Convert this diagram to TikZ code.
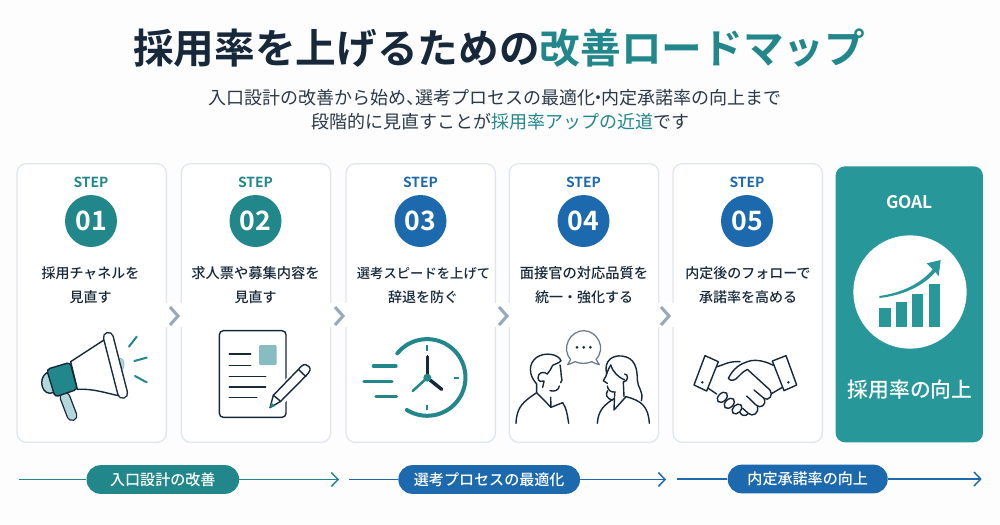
\documentclass[tikz,border=0pt]{standalone}
\usepackage{fontspec}
\setmainfont{Noto Sans CJK JP}[BoldFont={Noto Sans CJK JP Bold}]
\newfontfamily\medfont{Noto Sans CJK JP Medium}
\usetikzlibrary{arrows.meta}

\definecolor{inkdark}{HTML}{16283A}
\definecolor{bodygray}{HTML}{2B3949}
\definecolor{tealmain}{HTML}{22878A}
\definecolor{tealgoal}{HTML}{27979A}
\definecolor{teallight}{HTML}{B2D8DB}
\definecolor{tealsquare}{HTML}{87BCC0}
\definecolor{bluemain}{HTML}{1C69AD}
\definecolor{cardedge}{HTML}{E0E6ED}
\definecolor{chevgray}{HTML}{97A9BB}
\definecolor{bubblegray}{HTML}{6F7A8A}
\definecolor{pagebg}{HTML}{FDFDFE}

\tikzset{
  stepcard/.style={draw=cardedge, line width=.95pt, fill=white, rounded corners=7pt, minimum width=112pt, minimum height=209pt, inner sep=0pt},
  goalcard/.style={fill=tealgoal, rounded corners=7pt, minimum width=110.5pt, minimum height=207pt, inner sep=0pt},
  steplabel/.style={font=\bfseries\fontsize{10.4}{12}\selectfont, inner sep=0pt},
  stepnum/.style={circle, minimum size=39pt, inner sep=0pt, text=white, font=\bfseries\fontsize{20}{24}\selectfont},
  steptext/.style={font=\medfont\fontsize{10.5}{12}\selectfont, text=inkdark, inner sep=0pt},
  gapbox/.style={fill=white, minimum width=20pt, minimum height=18pt, inner sep=0pt},
  chevron/.style={draw=chevgray, line width=2.3pt, line join=miter},
  phasepill/.style={rounded corners=10.5pt, minimum height=21.5pt, inner sep=0pt, text=white, font=\medfont\fontsize{11.3}{13}\selectfont},
  phaseline/.style={line width=1.1pt, -{Straight Barb[length=5pt,width=10.5pt,line width=1.1pt]}},
  iconline/.style={draw=inkdark, line width=1.05pt, line cap=round, line join=round},
  iconteal/.style={draw=tealmain, line width=1.5pt, line cap=round},
  zoomed/.style={x=.25pt, y=-.25pt},
}

\begin{document}
\begin{tikzpicture}[x=.75pt, y=-.75pt]
  \useasboundingbox (0,0) rectangle (1000,525);
  \fill[pagebg] (0,0) rectangle (1000,525);

  % Title block
  \node[inner sep=0pt, font=\bfseries\fontsize{30.5}{36}\selectfont, text=inkdark] (title) at (499,48) {採用率を上げるための\textcolor{tealmain}{改善ロードマップ}};
  \node[inner sep=0pt, font=\fontsize{13.5}{16}\selectfont, text=bodygray] (subone) at (495,98) {入口設計の改善から始め、\hspace{-6.7pt}選考プロセスの最適化\hspace{-4.5pt}・\hspace{-4.5pt}内定承諾率の向上まで};
  \node[inner sep=0pt, font=\fontsize{13.5}{16}\selectfont, text=bodygray] (subtwo) at (500,122) {段階的に見直すことが\textcolor{tealmain}{採用率アップの近道}です};

  % Cards
  \node[stepcard] (card1) at (91.7,303) {};
  \node[stepcard] (card2) at (256,303) {};
  \node[stepcard] (card3) at (420.7,303) {};
  \node[stepcard] (card4) at (584,303) {};
  \node[stepcard] (card5) at (747.7,303) {};
  \node[goalcard] (goal) at (909.3,304.3) {};

  % Gaps and chevrons between the cards
  \node[gapbox] (gap1) at (174,315) {};
  \node[gapbox] (gap2) at (339,315) {};
  \node[gapbox] (gap3) at (503,315) {};
  \node[gapbox] (gap4) at (666,315) {};
  \draw[chevron] (170,307) -- (178,316) -- (170,325);
  \draw[chevron] (335,307) -- (343,316) -- (335,325);
  \draw[chevron] (499,307) -- (507,316) -- (499,325);
  \draw[chevron] (661,307) -- (669,316) -- (661,325);

  % Step labels
  \node[steplabel, text=tealmain] (label1) at (91,182) {STEP};
  \node[steplabel, text=tealmain] (label2) at (255.5,182) {STEP};
  \node[steplabel, text=bluemain] (label3) at (420.5,182) {STEP};
  \node[steplabel, text=bluemain] (label4) at (583.5,182) {STEP};
  \node[steplabel, text=bluemain] (label5) at (747,182) {STEP};

  % Step numbers
  \node[stepnum, fill=tealmain] (num1) at (91,221) {01};
  \node[stepnum, fill=tealmain] (num2) at (255.5,221) {02};
  \node[stepnum, fill=bluemain] (num3) at (420.5,221) {03};
  \node[stepnum, fill=bluemain] (num4) at (583.5,221) {04};
  \node[stepnum, fill=bluemain] (num5) at (747,221) {05};

  % Step texts
  \node[steptext] (text1a) at (90.5,273) {採用チャネルを};
  \node[steptext] (text1b) at (90.5,297) {見直す};
  \node[steptext, font=\medfont\fontsize{10.7}{12}\selectfont] (text2a) at (255.5,273) {求人票や募集内容を};
  \node[steptext] (text2b) at (255.5,297) {見直す};
  \node[steptext, font=\medfont\fontsize{10}{12}\selectfont] (text3a) at (423.5,273) {選考スピードを上げて};
  \node[steptext] (text3b) at (423,297) {辞退を防ぐ};
  \node[steptext, font=\medfont\fontsize{10.7}{12}\selectfont] (text4a) at (584,273) {面接官の対応品質を};
  \node[steptext] (text4b) at (584,297) {統一・強化する};
  \node[steptext] (text5a) at (748,273) {内定後のフォローで};
  \node[steptext] (text5b) at (748,297) {承諾率を高める};

  % Megaphone
  \begin{scope}[shift={(0,300)}, zoomed]
    \filldraw[fill=teallight, draw=teallight!70!tealmain, line width=.6pt] (362,193) ellipse (10 and 18);
    \filldraw[iconline, fill=teallight] (150,248) ellipse (25 and 32);
    \draw[inkdark, line width=8.2pt, line cap=round] (195,292) -- (216,347);
    \draw[teallight, line width=6.2pt, line cap=round] (195,292) -- (216,347);
    \filldraw[iconline, fill=white] (315,118) -- (212,185) -- (232,268) .. controls (280,265) and (320,280) .. (360,288) -- cycle;
    \filldraw[iconline, fill=tealmain, rounded corners=2.5pt] (140,208) -- (210,187) -- (232,268) -- (165,291) -- cycle;
    \draw[inkdark, line width=8.4pt, line cap=round] (325,112) -- (368,280);
    \draw[white, line width=6.2pt, line cap=round] (325,112) -- (368,280);
    \draw[iconteal] (387,140) -- (410,110);
    \draw[iconteal] (403,183) -- (440,173);
    \draw[iconteal] (405,228) -- (440,247);
  \end{scope}

  % Document and pencil
  \begin{scope}[shift={(0,300)}, zoomed]
    \draw[iconline, rounded corners=3pt] (658,92) rectangle (858,352);
    \fill[tealsquare, rounded corners=1pt] (777,135) rectangle (830,195);
    \draw[iconline] (688,162) -- (752,162);
    \draw[iconline] (688,197) -- (752,197);
    \draw[iconline] (688,229) -- (797,229);
    \draw[iconline] (688,261) -- (797,261);
    \draw[iconline] (688,293) -- (770,293);
    \fill[white] (803,335) -- (815,275) -- (915,185) -- (945,212) -- (845,318) -- cycle;
    \filldraw[iconline, fill=white] (810,323) -- (820,286) -- (903,200) .. controls (912,190) and (922,193) .. (927,200) .. controls (933,208) and (930,214) .. (924,221) -- (842,304) -- cycle;
    \draw[iconline] (895,208) -- (918,230);
    \draw[iconline] (820,286) -- (842,304);
    \fill[tealmain] (810,323) -- (814,308) -- (826,318) -- cycle;
  \end{scope}

  % Clock
  \begin{scope}[shift={(340,300)}, zoomed]
    \draw[tealmain, line width=3pt, line cap=round] (172,160) arc[start angle=-141, end angle=122, radius=115];
    \draw[tealmain, line width=1.6pt] (262,135) -- (262,152);
    \draw[tealmain, line width=1.6pt] (343,235) -- (358,235);
    \draw[tealmain, line width=1.6pt] (262,315) -- (262,331);
    \draw[inkdark, line width=2.6pt, line cap=round] (262,233) -- (262,170);
    \draw[inkdark, line width=2.6pt, line cap=round] (270,240) -- (305,268);
    \draw[tealmain, line width=1.9pt, line cap=round] (262,233) -- (218,273);
    \fill[tealmain] (262,233) circle (12);
    \draw[tealmain, line width=2.4pt, line cap=round] (100,198) -- (168,198);
    \draw[tealmain, line width=2.4pt, line cap=round] (72,244) -- (156,244);
    \draw[tealmain, line width=2.4pt, line cap=round] (108,290) -- (170,290);
  \end{scope}

  % Two people talking
  \begin{scope}[shift={(340,300)}, zoomed]
    \draw[draw=bubblegray, line width=.95pt, line join=round] (692,178) .. controls (662,145) and (690,92) .. (731,92) .. controls (772,92) and (800,145) .. (768,178) -- (778,194) .. controls (768,192) and (762,188) .. (755,185) .. controls (740,192) and (720,192) .. (705,185) .. controls (698,188) and (692,192) .. (683,194) -- cycle;
    \fill[inkdark] (711,142) circle (4.5);
    \fill[inkdark] (731,142) circle (4.5);
    \fill[inkdark] (751,142) circle (4.5);
    % man
    \draw[iconline] (590,252) .. controls (565,225) and (565,190) .. (590,172) .. controls (615,155) and (655,162) .. (663,182) .. controls (655,192) and (645,190) .. (638,196) .. controls (632,205) and (630,215) .. (622,222);
    \draw[iconline] (622,222) .. controls (612,212) and (592,218) .. (594,235) .. controls (596,245) and (606,247) .. (612,243);
    \draw[iconline] (660,195) .. controls (664,212) and (662,225) .. (666,240) -- (662,248);
    \draw[iconline] (658,258) .. controls (656,270) and (645,276) .. (630,272);
    \draw[iconline] (590,252) -- (590,278) -- (633,322) -- (632,292);
    \draw[iconline] (528,370) .. controls (530,320) and (550,305) .. (590,278);
    \draw[iconline] (633,322) -- (668,308) .. controls (680,325) and (682,345) .. (686,370);
    \draw[iconline] (612,244) -- (608,262);
    % woman
    \draw[iconline] (800,222) .. controls (790,180) and (820,165) .. (845,168) .. controls (885,172) and (892,205) .. (892,240) .. controls (892,262) and (912,275) .. (904,302);
    \draw[iconline] (812,195) .. controls (818,215) and (835,232) .. (854,240);
    \draw[iconline] (812,195) .. controls (804,210) and (800,220) .. (798,228) -- (790,242) -- (802,250);
    \draw[iconline] (802,258) .. controls (804,270) and (812,278) .. (826,276);
    \draw[iconline] (854,222) .. controls (866,222) and (866,245) .. (850,246);
    \draw[iconline] (803,272) .. controls (796,282) and (798,296) .. (818,300);
    \draw[iconline] (824,278) -- (822,330) -- (858,290);
    \draw[iconline] (850,246) -- (852,290);
    \draw[iconline] (772,370) .. controls (774,335) and (790,315) .. (822,296);
    \draw[iconline] (858,290) .. controls (905,302) and (925,320) .. (928,370);
  \end{scope}

  % Handshake
  \begin{scope}[shift={(660,160)}, zoomed]
    \draw[iconline] (135,587) -- (175,605) -- (140,693) -- (102,675) -- cycle;
    \draw[iconline] (337,603) -- (378,587) -- (410,675) -- (372,692) -- cycle;
    \fill[inkdark] (127,667) circle (4);
    \fill[inkdark] (385,667) circle (4);
    \draw[iconline] (172,620) .. controls (190,615) and (205,603) .. (240,605);
    \draw[iconline] (145,685) -- (170,702);
    \draw[iconline] (367,682) -- (336,700);
    \draw[iconline] (340,616) .. controls (320,606) and (290,595) .. (262,605) .. controls (240,612) and (220,625) .. (205,655) .. controls (212,665) and (225,662) .. (235,650) .. controls (245,640) and (252,632) .. (262,628) -- (330,690) .. controls (342,705) and (325,725) .. (312,715) -- (282,690);
    \draw[iconline] (312,715) .. controls (322,735) and (300,748) .. (288,735) -- (260,708);
    \draw[iconline] (292,740) .. controls (298,760) and (278,772) .. (265,760) -- (248,745);
    \draw[iconline] (265,760) .. controls (258,770) and (245,768) .. (240,758);
    \filldraw[iconline, fill=white, rotate around={45:(187,712)}] (187,712) ellipse (18 and 12);
    \filldraw[iconline, fill=white, rotate around={45:(208,730)}] (208,730) ellipse (18 and 12);
    \filldraw[iconline, fill=white, rotate around={45:(231,747)}] (231,747) ellipse (17 and 12);
  \end{scope}

  % Goal
  \node[inner sep=0pt, text=white, font=\bfseries\fontsize{13}{16}\selectfont] (goallabel) at (909.5,202) {GOAL};
  \node[circle, fill=white, minimum size=85pt, inner sep=0pt] (goalcircle) at (910,292) {};
  \begin{scope}[shift={(660,160)}, zoomed]
    \fill[tealgoal] (658,445) rectangle (692,500);
    \fill[tealgoal] (708,425) rectangle (742,500);
    \fill[tealgoal] (757,403) rectangle (790,500);
    \fill[tealgoal] (806,373) rectangle (840,500);
    \fill[tealgoal] (658,408) .. controls (730,398) and (785,368) .. (818,328) -- (800,310) -- (842,300) -- (836,348) -- (826,336) .. controls (790,378) and (730,406) .. (658,414) -- cycle;
  \end{scope}
  \node[inner sep=0pt, text=white, font=\medfont\fontsize{15.6}{18}\selectfont] (goaltext) at (910,390) {採用率の向上};

  % Phase bars
  \node[phasepill, fill=tealmain, minimum width=114.4pt] (pill1) at (162.8,479.5) {入口設計の改善};
  \node[phasepill, fill=bluemain, minimum width=136.2pt] (pill2) at (489.2,479.5) {選考プロセスの最適化};
  \node[phasepill, fill=bluemain, minimum width=120pt] (pill3) at (807.7,479) {内定承諾率の向上};
  \coordinate (start1) at (19,479.5);
  \coordinate (end1) at (339,479.5);
  \coordinate (start2) at (349.3,479.5);
  \coordinate (end2) at (666,479.5);
  \coordinate (start3) at (677.3,479);
  \coordinate (end3) at (981.7,479);
  \draw[tealmain, line width=1.1pt] (start1) -- (pill1);
  \draw[phaseline, tealmain] (pill1) -- (end1);
  \draw[bluemain, line width=1.1pt] (start2) -- (pill2);
  \draw[phaseline, bluemain] (pill2) -- (end2);
  \draw[bluemain, line width=1.1pt] (start3) -- (pill3);
  \draw[phaseline, bluemain] (pill3) -- (end3);
\end{tikzpicture}
\end{document}
